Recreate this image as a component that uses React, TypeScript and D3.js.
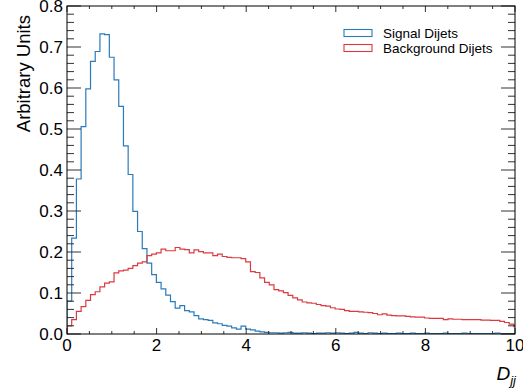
import React from "react";
import * as d3 from "d3";

const BIN_WIDTH = 0.105;

const signalValues = [
  0.080, 0.234, 0.378, 0.506, 0.598, 0.665, 0.689, 0.732, 0.730, 0.675,
  0.620, 0.555, 0.459, 0.389, 0.299, 0.250, 0.208, 0.173, 0.145, 0.126,
  0.110, 0.095, 0.079, 0.063, 0.069, 0.057, 0.054, 0.045, 0.037, 0.035,
  0.033, 0.027, 0.025, 0.021, 0.019, 0.015, 0.012, 0.019, 0.012, 0.010,
  0.007, 0.005, 0.004, 0.003, 0.003, 0.002, 0.003, 0.004, 0.002, 0.002,
  0.003, 0.002, 0.001, 0.002, 0.002, 0.003, 0.002, 0.003, 0.002, 0.001,
  0.002, 0.004, 0.002, 0.001, 0.003, 0.002, 0.001, 0.002, 0.001, 0.001,
  0.002, 0.001, 0.001, 0.002, 0.001, 0.001, 0.002, 0.001, 0.001, 0.001,
  0.002, 0.001, 0.001, 0.001, 0.002, 0.001, 0.001, 0.001, 0.001, 0.001,
  0.001, 0.002, 0.001, 0.001, 0.001, 0.001,
];

const backgroundValues = [
  0.020, 0.035, 0.055, 0.067, 0.082, 0.096, 0.103, 0.115, 0.124, 0.127,
  0.149, 0.154, 0.156, 0.160, 0.167, 0.173, 0.176, 0.191, 0.195, 0.198,
  0.207, 0.203, 0.203, 0.211, 0.207, 0.206, 0.198, 0.205, 0.201, 0.198,
  0.198, 0.191, 0.195, 0.189, 0.187, 0.186, 0.186, 0.184, 0.176, 0.152,
  0.150, 0.137, 0.126, 0.120, 0.108, 0.105, 0.101, 0.094, 0.088, 0.083,
  0.078, 0.076, 0.075, 0.072, 0.069, 0.068, 0.064, 0.061, 0.060, 0.057,
  0.055, 0.055, 0.054, 0.053, 0.052, 0.050, 0.047, 0.049, 0.046, 0.045,
  0.044, 0.044, 0.043, 0.042, 0.041, 0.041, 0.039, 0.038, 0.038, 0.038,
  0.035, 0.037, 0.036, 0.036, 0.035, 0.035, 0.035, 0.035, 0.034, 0.034,
  0.033, 0.033, 0.031, 0.028, 0.024, 0.018,
];

const xMajorTicks = [0, 2, 4, 6, 8, 10];
const yMajorTicks = [0, 0.1, 0.2, 0.3, 0.4, 0.5, 0.6, 0.7, 0.8];
const yTickLabels = ["0.0", "0.1", "0.2", "0.3", "0.4", "0.5", "0.6", "0.7", "0.8"];

const seriesNames = ["Signal Dijets", "Background Dijets"];
const seriesColors = ["#2b7bba", "#dc3a40"];

const W = 523;
const H = 392;
const M = { left: 67, right: 515, top: 6, bottom: 334 };
const FONT = "'Liberation Sans', Arial, Helvetica, sans-serif";

export default function App() {
  const x = d3.scaleLinear().domain([0, 10]).range([M.left, M.right]);
  const y = d3.scaleLinear().domain([0, 0.8]).range([M.bottom, M.top]);

  const stepPath = (vals: number[]) => {
    const pts: [number, number][] = [[0, 0]];
    vals.forEach((v, i) => {
      pts.push([i * BIN_WIDTH, v]);
      pts.push([(i + 1) * BIN_WIDTH, v]);
    });
    pts.push([vals.length * BIN_WIDTH, 0]);
    return d3
      .line<[number, number]>()
      .x((d) => x(d[0]))
      .y((d) => y(d[1]))(pts) as string;
  };

  const xMinor = d3.range(0, 10.001, 0.5).filter((v) => Math.abs(v % 2) > 1e-6);
  const yMinor = d3.range(0, 0.8001, 0.02).filter((v) => Math.abs(Math.round(v * 10) - v * 10) > 1e-6);

  const tickColor = "#333";

  return (
    <svg
      width={W}
      height={H}
      style={{ position: "absolute", left: 0, top: 0, background: "#fff" }}
      fontFamily={FONT}
    >
      <defs>
        <clipPath id="plotclip">
          <rect x={M.left} y={M.top} width={M.right - M.left} height={M.bottom - M.top} />
        </clipPath>
      </defs>

      <g clipPath="url(#plotclip)" fill="none" strokeWidth={1.2}>
        <path d={stepPath(signalValues)} stroke={seriesColors[0]} />
        <path d={stepPath(backgroundValues)} stroke={seriesColors[1]} />
      </g>

      {/* ticks */}
      <g stroke={tickColor} strokeWidth={1}>
        {xMajorTicks.map((t) => (
          <g key={"xM" + t}>
            <line x1={x(t)} x2={x(t)} y1={M.bottom} y2={M.bottom - 6} />
            <line x1={x(t)} x2={x(t)} y1={M.top} y2={M.top + 6} />
          </g>
        ))}
        {xMinor.map((t) => (
          <g key={"xm" + t}>
            <line x1={x(t)} x2={x(t)} y1={M.bottom} y2={M.bottom - 3} />
            <line x1={x(t)} x2={x(t)} y1={M.top} y2={M.top + 3} />
          </g>
        ))}
        {yMajorTicks.map((t) => (
          <g key={"yM" + t}>
            <line x1={M.left} x2={M.left + 14} y1={y(t)} y2={y(t)} />
            <line x1={M.right} x2={M.right - 14} y1={y(t)} y2={y(t)} />
          </g>
        ))}
        {yMinor.map((t) => (
          <g key={"ym" + t}>
            <line x1={M.left} x2={M.left + 7} y1={y(t)} y2={y(t)} />
            <line x1={M.right} x2={M.right - 7} y1={y(t)} y2={y(t)} />
          </g>
        ))}
      </g>

      <rect
        x={M.left}
        y={M.top}
        width={M.right - M.left}
        height={M.bottom - M.top}
        fill="none"
        stroke="#000"
        strokeWidth={1}
      />

      {/* tick labels */}
      <g fontSize={17} fill="#000">
        {xMajorTicks.map((t) => (
          <text key={"xl" + t} x={x(t)} y={351} textAnchor="middle">
            {t}
          </text>
        ))}
        {yMajorTicks.map((t, i) => (
          <text key={"yl" + t} x={63} y={y(t)} dy="0.36em" textAnchor="end">
            {yTickLabels[i]}
          </text>
        ))}
      </g>

      {/* axis titles */}
      <text
        transform={`translate(30,15) rotate(-90)`}
        textAnchor="end"
        fontSize={18.5}
        fill="#000"
      >
        Arbitrary Units
      </text>
      <text x={516} y={380} textAnchor="end" fontSize={19} fontStyle="italic" fill="#000">
        D
        <tspan fontSize={13} dy={5}>
          jj
        </tspan>
      </text>

      {/* legend */}
      <g fontSize={13.5}>
        {seriesNames.map((n, i) => (
          <g key={n}>
            <rect
              x={344}
              y={29.5 + i * 15}
              width={28}
              height={7}
              fill="none"
              stroke={seriesColors[i]}
              strokeWidth={1.1}
            />
            <text x={383} y={38 + i * 15} fill="#000">
              {n}
            </text>
          </g>
        ))}
      </g>
    </svg>
  );
}
